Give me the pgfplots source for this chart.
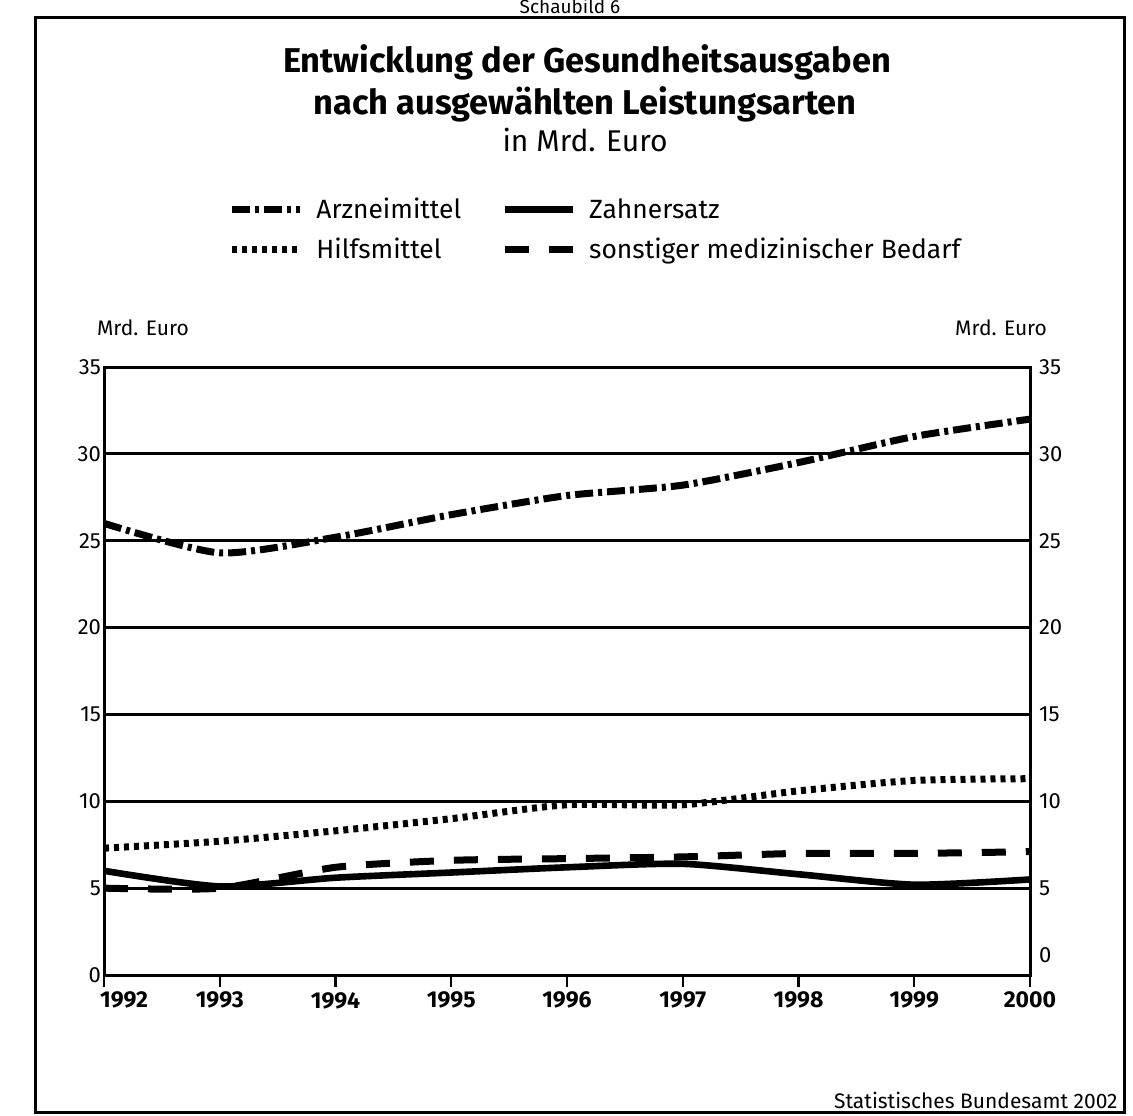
\documentclass[border=0pt]{standalone}
\usepackage{fontspec}
\setmainfont{Fira Sans}
\usepackage{pgfplots}
\pgfplotsset{compat=1.18}
\begin{document}
\begin{tikzpicture}
\useasboundingbox (0pt,0pt) rectangle (566.5pt,557.5pt);
% frame
\draw[line width=1.5pt] (17.5pt,548.5pt) -- (562pt,548.5pt) -- (562pt,1.5pt) -- (17.5pt,1.5pt) -- cycle;
\node[anchor=base,inner sep=0pt,font=\fontsize{9.5}{10}\selectfont] at (285pt,550.5pt) {Schaubild 6};
% titles
\node[anchor=base,font=\bfseries\fontsize{17.2}{18}\selectfont] at (293.5pt,521pt) {Entwicklung der Gesundheitsausgaben};
\node[anchor=base,font=\bfseries\fontsize{17.2}{18}\selectfont] at (292.5pt,500pt) {nach ausgewählten Leistungsarten};
\node[anchor=base,font=\fontsize{15}{15}\selectfont] at (292.5pt,481.5pt) {in Mrd. Euro};
% axis unit labels
\node[anchor=west,font=\fontsize{10.5}{11}\selectfont] at (45pt,393.5pt) {Mrd. Euro};
\node[anchor=east,font=\fontsize{10.5}{11}\selectfont] at (527pt,393.5pt) {Mrd. Euro};
% source
\node[anchor=east,inner sep=0pt,font=\fontsize{10.5}{11}\selectfont] at (559pt,7.5pt) {Statistisches Bundesamt 2002};

\begin{axis}[
  at={(52pt,70pt)}, anchor=south west,
  scale only axis, width=463pt, height=304pt,
  xmin=1992, xmax=2000, ymin=0, ymax=35,
  xtick={1992,1993,...,2000},
  xticklabels={\hspace*{20pt}1992,1993,1994,1995,1996,1997,1998,1999,2000},
  xtick pos=left,
  ytick={0,5,...,35},
  ymajorgrids,
  major grid style={line width=1.4pt, black},
  axis line style={line width=1.5pt},
  tick style={draw=none},
  /pgf/number format/assume math mode=true,
  yticklabel style={font=\fontsize{11}{11}\selectfont, xshift=2pt},
  xticklabel style={font=\bfseries\fontsize{11.5}{12}\selectfont, yshift=-5pt},
  clip=false,
  legend columns=2,
  legend cell align=left,
  legend style={at={(axis description cs:0.1275,1.292)}, anchor=north west,
    draw=none, fill=none, font=\fontsize{13.2}{13.2}\selectfont,
    row sep=4pt,
    /tikz/every even column/.append style={column sep=18pt}},
  legend image code/.code={\draw[#1] (0pt,0pt) -- (34pt,0pt); \path (38.5pt,0pt);},
]
\addplot[black, line width=3.5pt, smooth, tension=0.4, dash pattern=on 9pt off 2.5pt on 2pt off 2.5pt]
  coordinates {(1992,26.0)(1993,24.3)(1994,25.2)(1995,26.5)(1996,27.6)(1997,28.2)(1998,29.5)(1999,31.0)(2000,32.0)};
\addlegendentry{Arzneimittel}
\addplot[black, line width=3.3pt, smooth, tension=0.4]
  coordinates {(1992,6.0)(1993,5.1)(1994,5.6)(1995,5.9)(1996,6.2)(1997,6.4)(1998,5.8)(1999,5.2)(2000,5.5)};
\addlegendentry{Zahnersatz}
\addplot[black, line width=3.5pt, smooth, tension=0.4, dash pattern=on 2.5pt off 2.5pt]
  coordinates {(1992,7.3)(1993,7.7)(1994,8.3)(1995,9.0)(1996,9.8)(1997,9.8)(1998,10.6)(1999,11.2)(2000,11.3)};
\addlegendentry{Hilfsmittel}
\addplot[black, line width=3.5pt, smooth, tension=0.4, dash pattern=on 12pt off 10pt]
  coordinates {(1992,5.0)(1993,5.0)(1994,6.2)(1995,6.6)(1996,6.7)(1997,6.8)(1998,7.0)(1999,7.0)(2000,7.1)};
\addlegendentry{sonstiger medizinischer Bedarf}
% x tick marks below the axis
\pgfplotsinvokeforeach{1992,1993,...,2000}{
  \draw[line width=1.2pt] (axis cs:#1,0) -- ++(0pt,-6pt);
}
\end{axis}

\begin{axis}[
  at={(52pt,70pt)}, anchor=south west,
  scale only axis, width=463pt, height=304pt,
  xmin=1992, xmax=2000, ymin=0, ymax=35,
  axis x line=none,
  axis y line*=right,
  axis line style={line width=1.5pt},
  ytick={0,5,...,35},
  yticklabels={\raisebox{20pt}{0},5,10,15,20,25,30,35},
  ytick style={draw=none},
  /pgf/number format/assume math mode=true,
  yticklabel style={font=\fontsize{11}{11}\selectfont, xshift=1pt},
]
\end{axis}
\end{tikzpicture}
\end{document}
